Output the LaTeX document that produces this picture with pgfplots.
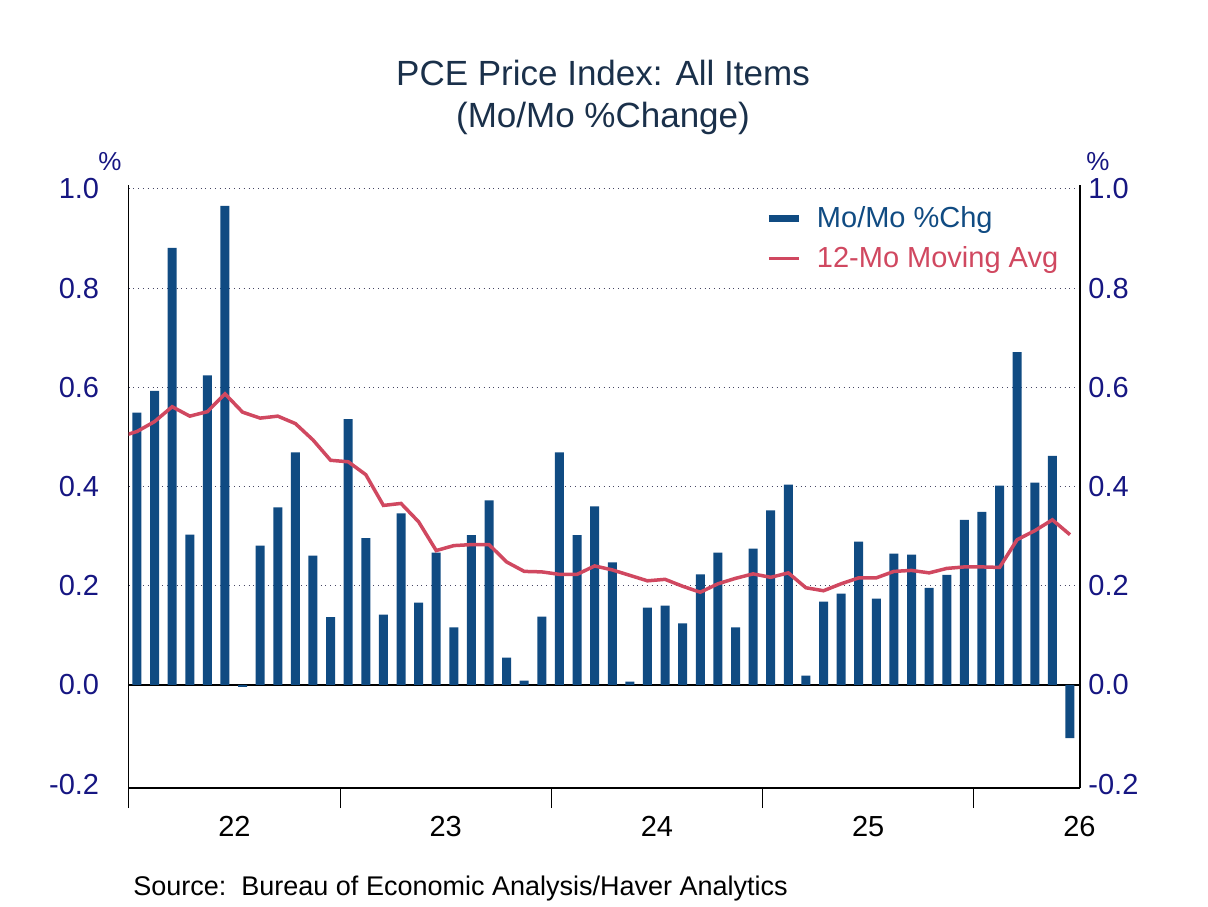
\documentclass[border=0pt]{standalone}
\usepackage{pgfplots}
\pgfplotsset{compat=1.18}
\usepackage{pgfplotstable}
\usepackage{fontspec}
\setmainfont{Liberation Sans}
\definecolor{barblue}{RGB}{16,75,130}
\definecolor{linered}{RGB}{208,72,96}
\definecolor{ticknavy}{RGB}{22,22,130}
\definecolor{titlecol}{RGB}{26,48,74}
\definecolor{gridcol}{RGB}{70,70,100}

\pgfplotstableread{
x y
1 0.549
2 0.593
3 0.881
4 0.303
5 0.624
6 0.966
7 -0.004
8 0.281
9 0.358
10 0.469
11 0.261
12 0.137
13 0.536
14 0.296
15 0.142
16 0.346
17 0.166
18 0.267
19 0.116
20 0.302
21 0.372
22 0.055
23 0.009
24 0.138
25 0.469
26 0.302
27 0.360
28 0.247
29 0.007
30 0.156
31 0.160
32 0.124
33 0.223
34 0.267
35 0.116
36 0.275
37 0.352
38 0.404
39 0.019
40 0.168
41 0.184
42 0.289
43 0.174
44 0.265
45 0.263
46 0.196
47 0.222
48 0.333
49 0.349
50 0.402
51 0.671
52 0.408
53 0.462
54 -0.107
}\barsdata

\pgfplotstableread{
x y
0 0.500
1 0.511
2 0.531
3 0.561
4 0.542
5 0.551
6 0.587
7 0.550
8 0.538
9 0.542
10 0.527
11 0.494
12 0.453
13 0.450
14 0.424
15 0.362
16 0.366
17 0.329
18 0.271
19 0.281
20 0.283
21 0.283
22 0.248
23 0.229
24 0.228
25 0.223
26 0.223
27 0.240
28 0.232
29 0.221
30 0.210
31 0.213
32 0.199
33 0.187
34 0.204
35 0.215
36 0.224
37 0.217
38 0.226
39 0.196
40 0.190
41 0.204
42 0.216
43 0.216
44 0.229
45 0.231
46 0.226
47 0.235
48 0.238
49 0.238
50 0.237
51 0.293
52 0.311
53 0.333
54 0.303
}\linedata

\begin{document}
\begin{tikzpicture}
\path[use as bounding box] (0,0) rectangle (604pt,453pt);
\begin{axis}[
  at={(64.25pt,59pt)}, anchor=south west,
  width=475.75pt, height=301.5pt, scale only axis,
  xmin=0.52, xmax=54.57,
  ymin=-0.2077, ymax=1.008,
  axis x line*=bottom, axis y line*=left,
  axis line style={black, line width=0.6pt, -},
  ytick={-0.2,0,0.2,0.4,0.6,0.8,1.0},
  yticklabels={-0.2,0.0,0.2,0.4,0.6,0.8,1.0},
  yticklabel style={font=\fontsize{14.5}{17}\selectfont, text=ticknavy, anchor=east, inner sep=0pt, xshift=-4.5pt},
  ytick style={draw=none},
  minor ytick={0.2,0.4,0.6,0.8,1.0},
  minor y tick style={draw=none},
  yminorgrids,
  minor grid style={gridcol, dotted, line width=0.5pt},
  xtick={0.54,12.54,24.54,36.54,48.54},
  xticklabels={},
  xtick style={draw=black, line width=0.6pt},
  tick align=outside,
  major tick length=10pt,
  extra x ticks={6.54,18.54,30.54,42.54,54.54},
  extra x tick labels={22,23,24,25,26},
  extra x tick style={major tick length=0pt, tick style={draw=none}},
  xticklabel style={font=\fontsize{14.5}{17}\selectfont, text=black, yshift=-10.5pt},
  extra y ticks={0},
  extra y tick labels={},
  extra y tick style={grid=major, major grid style={black, solid, line width=0.6pt}},
  legend style={at={(0.669,0.972)}, anchor=north west, draw=none, fill=none,
    font=\fontsize{14.5}{17}\selectfont, row sep=4pt, inner sep=0pt},
  legend cell align=left,
  clip=true,
]
\addplot[ybar, bar width=4.5pt, fill=barblue, draw=none,
  legend image code/.code={\draw[barblue, line width=3.5pt] (0pt,0pt) -- (15pt,0pt); \path[draw=none, fill=none] (0pt,0pt) rectangle (22pt,0.1pt);}]
  table[x=x,y=y] {\barsdata};
\addlegendentry{\textcolor{barblue}{Mo/Mo \%Chg}}
\addplot[linered, line width=1.75pt, mark=none,
  legend image code/.code={\draw[linered, line width=1.5pt] (0pt,0pt) -- (15pt,0pt); \path[draw=none, fill=none] (0pt,0pt) rectangle (22pt,0.1pt);}]
  table[x=x,y=y] {\linedata};
\addlegendentry{\textcolor{linered}{12-Mo Moving Avg}}
\end{axis}
\begin{axis}[
  at={(64.25pt,59pt)}, anchor=south west,
  width=475.75pt, height=301.5pt, scale only axis,
  xmin=0.52, xmax=54.57,
  ymin=-0.2077, ymax=1.008,
  axis y line*=right, axis x line=none,
  axis line style={black, line width=0.6pt, -},
  ytick={-0.2,0,0.2,0.4,0.6,0.8,1.0},
  yticklabels={-0.2,0.0,0.2,0.4,0.6,0.8,1.0},
  yticklabel style={font=\fontsize{14.5}{17}\selectfont, text=ticknavy, anchor=west, inner sep=0pt, xshift=4pt},
  ytick style={draw=none},
]
\addplot[draw=none] coordinates {(1,0)};
\end{axis}
\node[text=titlecol, font=\fontsize{17.5}{21}\selectfont, align=center] at (301.5pt,404.5pt) {PCE Price Index: All Items\\(Mo/Mo \%Change)};
\node[text=ticknavy, font=\fontsize{13}{15}\selectfont] at (55pt,372pt) {\%};
\node[text=ticknavy, font=\fontsize{13}{15}\selectfont] at (549pt,372pt) {\%};
\node[anchor=west, inner sep=0pt, font=\fontsize{13.5}{16}\selectfont] at (66.5pt,8.5pt) {Source:\ \ Bureau of Economic Analysis/Haver Analytics};
\end{tikzpicture}
\end{document}
